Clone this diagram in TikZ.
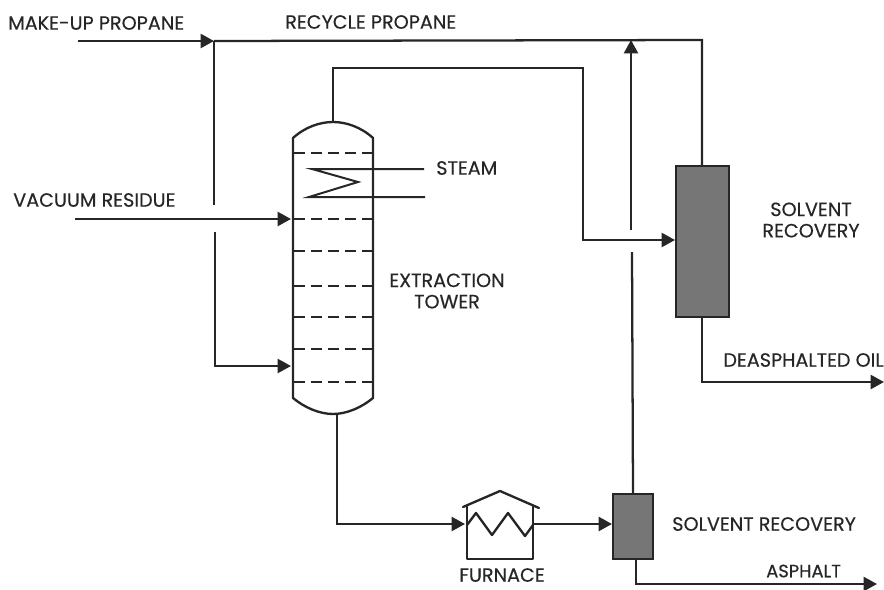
\documentclass[tikz,border=0pt]{standalone}
\usepackage{fontspec}
\setmainfont{Poppins}[FakeBold=0.35]
\usetikzlibrary{arrows.meta}
\definecolor{ink}{HTML}{262626}
\definecolor{fillgray}{HTML}{767676}
\tikzset{
  pipe/.style={draw=ink,line width=1.7pt,line join=miter},
  flow/.style={pipe,-{Triangle[length=10pt,width=10.5pt]}},
  vessel/.style={draw=ink,line width=1.75pt,line join=round},
  tray/.style={draw=ink,line width=1.9pt,dash pattern=on 8pt off 4.75pt},
  recovery/.style={draw=ink,line width=1.8pt,fill=fillgray,inner sep=0pt},
  lab/.style={text=ink,font=\fontsize{14.4pt}{16pt}\selectfont,inner sep=0pt,align=center}
}
\begin{document}
\begin{tikzpicture}[x=0.75pt,y=-0.75pt]
\useasboundingbox (0,0) rectangle (884,589);
% equipment
\node[recovery,minimum width=39.75pt,minimum height=113pt] (recA) at (702.5,241.5) {};
\node[recovery,minimum width=30pt,minimum height=48.75pt] (recB) at (633,526.5) {};
\node[inner sep=0pt,minimum width=60pt,minimum height=219pt] (tower) at (333,268) {};
\node[inner sep=0pt,minimum width=49.5pt,minimum height=39.75pt] (furn) at (500,532.5) {};
% tower shell
\draw[vessel] (293,138) .. controls (305,127) and (320,122) .. (333,122)
  .. controls (346,122) and (361,127) .. (373,138) -- (373,398)
  .. controls (361,408) and (346,414) .. (333,414)
  .. controls (320,414) and (305,408) .. (293,398) -- cycle;
\foreach \yy in {153,219,251,286,317,349,382}
  \draw[tray] (294,\yy) -- (373,\yy);
% steam coil
\coordinate (sa) at (424,169);
\coordinate (sb) at (425,197);
\draw[vessel,line width=1.5pt,line join=miter] (sa) -- (312,169) -- (358,182) -- (309,197) -- (sb);
% furnace
\draw[vessel] (furn.north west) -- (furn.south west) -- (furn.south east) -- (furn.north east);
\draw[vessel,line cap=round] (463,507) -- (500,491) -- (539,508);
\draw[vessel] (467,525) -- (476,513) -- (492,535) -- (508,513) -- (525,536) -- (533,525);
% coordinates of the connectors
\coordinate (mk) at (78,41);
\coordinate (jn) at (214,41);
\coordinate (vr) at (75,219);
\coordinate (oilend) at (884,382);
\coordinate (aspend) at (877,584);
\coordinate (top) at (631,40);
% recycle line
\draw[flow] (mk) -- (jn);
\draw[pipe] (jn) -- (702,40) -- (702,166);
\draw[pipe] (jn) -- (214,205);
\draw[flow] (215,232) -- (215,366) -- (291,366);
\draw[flow] (vr) -- (291,219);
% overhead
\draw[flow] (333,122) -- (333,68) -- (583,68) -- (583,240) -- (675,240);
% bottoms
\draw[flow] (337,414) -- (337,524) -- (465,524);
\draw[flow] (533,524) -- (612,524);
% return
\draw[pipe] (633,494) -- (632,252);
\draw[flow] (631,230) -- (top);
\draw[flow] (702,317) -- (702,382) -- (oilend);
\draw[flow] (636,559) -- (636,584) -- (aspend);
% labels
\node[lab,anchor=west] at (8,23) {MAKE-UP PROPANE};
\node[lab,anchor=west] at (285,22) {RECYCLE PROPANE};
\node[lab,anchor=west] at (13,200) {VACUUM RESIDUE};
\node[lab,anchor=west] at (436,168) {STEAM};
\node[lab] at (447,291) {EXTRACTION\\TOWER};
\node[lab] at (811,220) {SOLVENT\\RECOVERY};
\node[lab,anchor=east] at (884,360) {DEASPHALTED OIL};
\node[lab,anchor=west] at (672,524) {SOLVENT RECOVERY};
\node[lab] at (502,575) {FURNACE};
\node[lab,anchor=west,font=\fontsize{13.4pt}{16pt}\selectfont] at (766,571) {ASPHALT};
\end{tikzpicture}
\end{document}
